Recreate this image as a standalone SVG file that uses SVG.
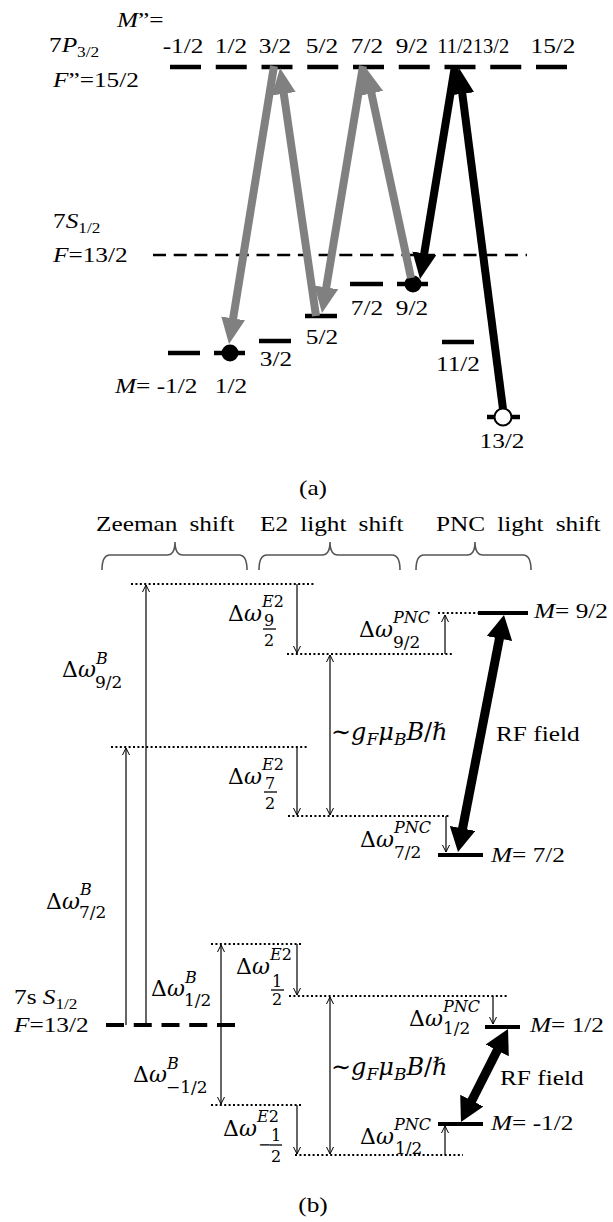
<svg xmlns="http://www.w3.org/2000/svg" width="613" height="1222" viewBox="0 0 613 1222">
<style>
.t{font-family:"Liberation Serif","Times New Roman",serif;font-size:22px;fill:#000}
.i{font-style:italic}
.sb{font-size:15px}
.m{font-family:"DejaVu Serif",serif;font-size:22px;fill:#000}
.sup{font-size:16px;font-style:italic}
.sub{font-size:17px}
.fr{font-size:16px}
.lv{stroke:#000;stroke-width:4.5;fill:none}
.lvb{stroke:#000;stroke-width:4;fill:none}
.dot{stroke:#000;stroke-width:2.2;stroke-dasharray:2 2.4;fill:none}
.gray{stroke:#808080;stroke-width:8;fill:none}
.blk{stroke:#000;stroke-width:8;fill:none}
.rf{stroke:#000;stroke-width:9;fill:none}
.thin{stroke:#000;stroke-width:1.2;fill:none}
.bar{stroke:#000;stroke-width:1.3}
.brace{stroke:#555;stroke-width:1.6;fill:none}
</style>
<defs>
<marker id="ag" markerUnits="userSpaceOnUse" markerWidth="26" markerHeight="24" viewBox="0 0 26 24" refX="4" refY="12" orient="auto"><path d="M0,0 L26,12 L0,24 z" fill="#808080"/></marker>
<marker id="ak" markerUnits="userSpaceOnUse" markerWidth="26" markerHeight="24" viewBox="0 0 26 24" refX="4" refY="12" orient="auto"><path d="M0,0 L26,12 L0,24 z" fill="#000"/></marker>
<marker id="ab" markerUnits="userSpaceOnUse" markerWidth="24" markerHeight="26" viewBox="0 0 24 26" refX="2" refY="13" orient="auto-start-reverse"><path d="M0,0 L24,13 L0,26 z" fill="#000"/></marker>
<marker id="ch" markerUnits="userSpaceOnUse" markerWidth="10" markerHeight="10" viewBox="-9 -5 10 10" refX="0" refY="0" orient="auto-start-reverse"><path d="M-7,-3.5 L0,0 L-7,3.5" fill="none" stroke="#000" stroke-width="1"/></marker>
</defs>
<rect width="613" height="1222" fill="#fff"/>

<!-- ===== Part (a) ===== -->
<g id="level-7P">
<line class="lv" x1="170" y1="67" x2="567" y2="67" stroke-dasharray="31 14.75"/>
<text class="t" transform="translate(117,27) scale(1.15,1)"><tspan class="i">M</tspan>”=</text>
<text class="t" transform="translate(49,52) scale(1.15,1)">7<tspan class="i">P</tspan><tspan class="sb" dy="5">3/2</tspan></text>
<text class="t" transform="translate(53,87) scale(1.15,1)"><tspan class="i">F</tspan>”=15/2</text>
<g text-anchor="middle">
<text class="t" transform="translate(183,53) scale(1.15,1)">-1/2</text>
<text class="t" transform="translate(231,53) scale(1.15,1)">1/2</text>
<text class="t" transform="translate(275,53) scale(1.15,1)">3/2</text>
<text class="t" transform="translate(322,53) scale(1.15,1)">5/2</text>
<text class="t" transform="translate(367,53) scale(1.15,1)">7/2</text>
<text class="t" transform="translate(412,53) scale(1.15,1)">9/2</text>
<text class="t" x="455" y="53" style="font-size:20.5px">11/2</text>
<text class="t" x="491" y="53" style="font-size:20.5px">13/2</text>
<text class="t" transform="translate(553,53) scale(1.15,1)">15/2</text>
</g>
</g>

<g id="level-7S">
<line x1="153" y1="255" x2="527" y2="255" stroke="#000" stroke-width="2.5" stroke-dasharray="13 7.7"/>
<text class="t" transform="translate(53,228) scale(1.15,1)">7<tspan class="i">S</tspan><tspan class="sb" dy="5">1/2</tspan></text>
<text class="t" transform="translate(53,262) scale(1.15,1)"><tspan class="i">F</tspan>=13/2</text>
</g>

<g id="sub-m-1_2">
<line class="lv" x1="168" y1="353" x2="200" y2="353"/>
<text class="t" transform="translate(115,393) scale(1.15,1)"><tspan class="i">M</tspan>= -1/2</text>
</g>
<g id="sub-1_2">
<line class="lv" x1="214" y1="353" x2="245" y2="353"/>
<circle cx="230" cy="353" r="8.5" fill="#000"/>
<text class="t" text-anchor="middle" transform="translate(231,393) scale(1.15,1)">1/2</text>
</g>
<g id="sub-3_2">
<line class="lv" x1="259" y1="341" x2="291" y2="341"/>
<text class="t" text-anchor="middle" transform="translate(276,366) scale(1.15,1)">3/2</text>
</g>
<g id="sub-5_2">
<line class="lv" x1="305" y1="316" x2="337" y2="316"/>
<text class="t" text-anchor="middle" transform="translate(322,344) scale(1.15,1)">5/2</text>
</g>
<g id="sub-7_2">
<line class="lv" x1="350" y1="284" x2="383" y2="284"/>
<text class="t" text-anchor="middle" transform="translate(367,315) scale(1.15,1)">7/2</text>
</g>
<g id="sub-9_2">
<line class="lv" x1="397" y1="284" x2="428" y2="284"/>
<circle cx="413" cy="284" r="8.5" fill="#000"/>
<text class="t" text-anchor="middle" transform="translate(412,315) scale(1.15,1)">9/2</text>
</g>
<g id="sub-11_2">
<line class="lv" x1="442" y1="342" x2="474" y2="342"/>
<text class="t" text-anchor="middle" transform="translate(458,371) scale(1.15,1)">11/2</text>
</g>
<g id="sub-13_2">
<line class="lv" x1="487" y1="417" x2="520" y2="417"/>
<circle cx="503" cy="417" r="8.5" fill="#fff" stroke="#000" stroke-width="2"/>
<text class="t" text-anchor="middle" transform="translate(502,448) scale(1.15,1)">13/2</text>
</g>

<g id="connectors-a">
<line class="gray" x1="274" y1="66" x2="232.5" y2="322.3" marker-end="url(#ag)"/>
<line class="gray" x1="316" y1="316" x2="283.2" y2="89.8" marker-end="url(#ag)"/>
<line class="gray" x1="363" y1="66" x2="325.6" y2="291.3" marker-end="url(#ag)"/>
<line class="gray" x1="411" y1="278" x2="370.6" y2="89.5" marker-end="url(#ag)"/>
<line class="blk" x1="455" y1="66" x2="423.6" y2="257.3" marker-end="url(#ak)"/>
<line class="blk" x1="503" y1="409" x2="461.8" y2="89.8" marker-end="url(#ak)"/>
</g>

<text class="t" text-anchor="middle" transform="translate(313,495) scale(1.15,1)">(a)</text>

<!-- ===== Part (b) ===== -->
<g id="headers" word-spacing="5">
<text class="t" transform="translate(96,531) scale(1.15,1)">Zeeman shift</text>
<text class="t" transform="translate(260,531) scale(1.15,1)">E2 light shift</text>
<text class="t" transform="translate(436,531) scale(1.15,1)">PNC light shift</text>
</g>
<g id="braces">
<path class="brace" d="M102,570 Q102,555 110,555 L167,555 Q175,555 175,542 Q175,555 183,555 L239,555 Q247,555 247,570"/>
<path class="brace" d="M259,570 Q259,555 267,555 L322,555 Q330,555 330,542 Q330,555 338,555 L392,555 Q400,555 400,570"/>
<path class="brace" d="M416,570 Q416,555 424,555 L467,555 Q475,555 475,542 Q475,555 483,555 L523,555 Q531,555 531,570"/>
</g>

<g id="level-F13_2">
<line class="lvb" x1="106" y1="1025" x2="235" y2="1025" stroke-dasharray="18 9.75"/>
<text class="t" transform="translate(14,1004) scale(1.15,1)">7s <tspan class="i">S</tspan><tspan class="sb" dy="5">1/2</tspan></text>
<text class="t" transform="translate(14,1032) scale(1.15,1)"><tspan class="i">F</tspan>=13/2</text>
</g>

<g id="shift-lines">
<line class="dot" x1="131" y1="584" x2="315" y2="584"/>
<line class="dot" x1="287" y1="654" x2="452" y2="654"/>
<line class="dot" x1="438" y1="613" x2="478" y2="613"/>
<line class="dot" x1="111" y1="747" x2="309" y2="747"/>
<line class="dot" x1="288" y1="816" x2="450" y2="816"/>
<line class="dot" x1="211" y1="944" x2="301" y2="944"/>
<line class="dot" x1="289" y1="996" x2="508" y2="996"/>
<line class="dot" x1="211" y1="1105" x2="301" y2="1105"/>
<line class="dot" x1="295" y1="1155" x2="463" y2="1155"/>
</g>

<g id="M9_2">
<line class="lvb" x1="478" y1="613" x2="528" y2="613"/>
<text class="t" transform="translate(534,618) scale(1.15,1)"><tspan class="i">M</tspan>= 9/2</text>
</g>
<g id="M7_2">
<line class="lvb" x1="438" y1="855" x2="483" y2="855"/>
<text class="t" transform="translate(491,862) scale(1.15,1)"><tspan class="i">M</tspan>= 7/2</text>
</g>
<g id="M1_2">
<line class="lvb" x1="485" y1="1027" x2="520" y2="1027"/>
<text class="t" transform="translate(530,1032) scale(1.15,1)"><tspan class="i">M</tspan>= 1/2</text>
</g>
<g id="Mm1_2">
<line class="lvb" x1="438" y1="1124" x2="483" y2="1124"/>
<text class="t" transform="translate(491,1130) scale(1.15,1)"><tspan class="i">M</tspan>= -1/2</text>
</g>

<g id="connectors-b">
<line class="thin" x1="146" y1="1025" x2="146" y2="585" marker-end="url(#ch)"/>
<line class="thin" x1="126" y1="1025" x2="126" y2="748" marker-end="url(#ch)"/>
<line class="thin" x1="221" y1="1025" x2="221" y2="945" marker-end="url(#ch)"/>
<line class="thin" x1="221" y1="1025" x2="221" y2="1104" marker-end="url(#ch)"/>
<line class="thin" x1="297" y1="584" x2="297" y2="653" marker-end="url(#ch)"/>
<line class="thin" x1="330" y1="655" x2="330" y2="815" marker-start="url(#ch)" marker-end="url(#ch)"/>
<line class="thin" x1="297" y1="747" x2="297" y2="815" marker-end="url(#ch)"/>
<line class="thin" x1="445" y1="654" x2="445" y2="615" marker-end="url(#ch)"/>
<line class="thin" x1="446" y1="816" x2="446" y2="852" marker-end="url(#ch)"/>
<line class="thin" x1="297" y1="944" x2="297" y2="995" marker-end="url(#ch)"/>
<line class="thin" x1="330" y1="997" x2="330" y2="1154" marker-start="url(#ch)" marker-end="url(#ch)"/>
<line class="thin" x1="297" y1="1105" x2="297" y2="1154" marker-end="url(#ch)"/>
<line class="thin" x1="493" y1="996" x2="493" y2="1024" marker-end="url(#ch)"/>
<line class="thin" x1="445" y1="1155" x2="445" y2="1126" marker-end="url(#ch)"/>
<line class="rf" x1="462.2" y1="830.4" x2="499.8" y2="636.6" marker-start="url(#ab)" marker-end="url(#ab)"/>
<line class="rf" x1="470.9" y1="1102.4" x2="498.1" y2="1048.6" marker-start="url(#ab)" marker-end="url(#ab)"/>
</g>

<g id="labels-zeeman">
<text class="m"><tspan x="62" y="677">Δ</tspan><tspan class="i">ω</tspan><tspan class="sup" x="96" y="664">B</tspan><tspan class="sub" x="95" y="688">9/2</tspan></text>
<text class="m"><tspan x="46" y="909">Δ</tspan><tspan class="i">ω</tspan><tspan class="sup" x="80" y="895">B</tspan><tspan class="sub" x="79" y="918">7/2</tspan></text>
<text class="m"><tspan x="151" y="996">Δ</tspan><tspan class="i">ω</tspan><tspan class="sup" x="185" y="983">B</tspan><tspan class="sub" x="184" y="1006">1/2</tspan></text>
<text class="m"><tspan x="133" y="1082">Δ</tspan><tspan class="i">ω</tspan><tspan class="sup" x="167" y="1069">B</tspan><tspan class="sub" x="166" y="1093">−1/2</tspan></text>
</g>

<g id="labels-e2">
<text class="m"><tspan x="228" y="621">Δ</tspan><tspan class="i">ω</tspan><tspan class="sup" x="262" y="607">E<tspan font-style="normal">2</tspan></tspan><tspan class="fr" x="269" y="626" text-anchor="middle">9</tspan><tspan class="fr" x="269" y="646" text-anchor="middle">2</tspan></text>
<line class="bar" x1="263" y1="629" x2="276" y2="629"/>
<text class="m"><tspan x="228" y="784">Δ</tspan><tspan class="i">ω</tspan><tspan class="sup" x="262" y="770">E<tspan font-style="normal">2</tspan></tspan><tspan class="fr" x="270" y="789" text-anchor="middle">7</tspan><tspan class="fr" x="270" y="809" text-anchor="middle">2</tspan></text>
<line class="bar" x1="264" y1="792" x2="277" y2="792"/>
<text class="m"><tspan x="236" y="974">Δ</tspan><tspan class="i">ω</tspan><tspan class="sup" x="270" y="960">E<tspan font-style="normal">2</tspan></tspan><tspan class="fr" x="277" y="987" text-anchor="middle">1</tspan><tspan class="fr" x="277" y="1005" text-anchor="middle">2</tspan></text>
<line class="bar" x1="271" y1="990" x2="284" y2="990"/>
<text class="m"><tspan x="223" y="1136">Δ</tspan><tspan class="i">ω</tspan><tspan class="sup" x="257" y="1122">E<tspan font-style="normal">2</tspan></tspan><tspan class="fr" x="258" y="1150">−</tspan><tspan class="fr" x="276" y="1141" text-anchor="middle">1</tspan><tspan class="fr" x="276" y="1162" text-anchor="middle">2</tspan></text>
<line class="bar" x1="270" y1="1145" x2="282" y2="1145"/>
</g>

<g id="labels-pnc">
<text class="m"><tspan x="359" y="637">Δ</tspan><tspan class="i">ω</tspan><tspan class="sup" x="393" y="623">PNC</tspan><tspan class="sub" x="393" y="648">9/2</tspan></text>
<text class="m"><tspan x="360" y="847">Δ</tspan><tspan class="i">ω</tspan><tspan class="sup" x="394" y="833">PNC</tspan><tspan class="sub" x="394" y="858">7/2</tspan></text>
<text class="m"><tspan x="409" y="1026">Δ</tspan><tspan class="i">ω</tspan><tspan class="sup" x="443" y="1012">PNC</tspan><tspan class="sub" x="443" y="1034">1/2</tspan></text>
<text class="m"><tspan x="360" y="1144">Δ</tspan><tspan class="i">ω</tspan><tspan class="sup" x="394" y="1130">PNC</tspan><tspan class="sub" x="395" y="1154">1/2</tspan></text>
</g>

<g id="labels-split">
<text class="m" x="331" y="740" style="font-size:24px">∼<tspan class="i">g</tspan><tspan class="sup" style="font-size:17px" dy="5">F</tspan><tspan class="i" dy="-5">μ</tspan><tspan class="sup" style="font-size:17px" dy="5">B</tspan><tspan class="i" dy="-5">B</tspan>/ℏ</text>
<text class="m" x="331" y="1075" style="font-size:24px">∼<tspan class="i">g</tspan><tspan class="sup" style="font-size:17px" dy="5">F</tspan><tspan class="i" dy="-5">μ</tspan><tspan class="sup" style="font-size:17px" dy="5">B</tspan><tspan class="i" dy="-5">B</tspan>/ℏ</text>
<text class="t" transform="translate(496,741) scale(1.15,1)">RF field</text>
<text class="t" transform="translate(500,1085) scale(1.15,1)">RF field</text>
</g>

<text class="t" text-anchor="middle" transform="translate(313,1212) scale(1.15,1)">(b)</text>
</svg>
